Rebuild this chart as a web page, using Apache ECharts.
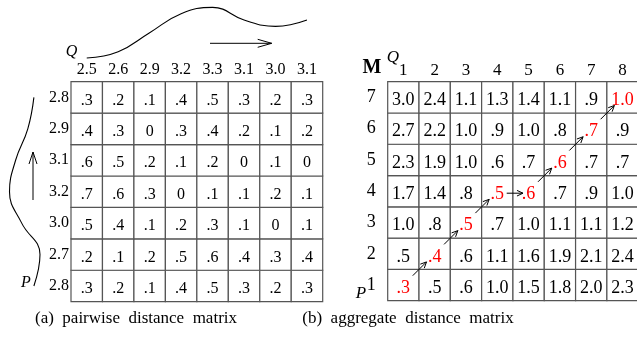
<!DOCTYPE html>
<html>
<head>
<meta charset="utf-8">
<script src="https://cdn.jsdelivr.net/npm/echarts@6/dist/echarts.min.js"></script>
<style>
  html, body { margin: 0; padding: 0; background: #fff; }
  #chart { width: 637px; height: 346px; }
</style>
</head>
<body>
<div id="chart"></div>
<script>
// sequences (P listed bottom to top)
const pValues = [2.8, 2.7, 3.0, 3.2, 3.1, 2.9, 2.8];
const qValues = [2.5, 2.6, 2.9, 3.2, 3.3, 3.1, 3.0, 3.1];

// pairwise distance matrix, rows bottom to top
const pairwise = [
  [.3, .2, .1, .4, .5, .3, .2, .3],
  [.2, .1, .2, .5, .6, .4, .3, .4],
  [.5, .4, .1, .2, .3, .1, 0, .1],
  [.7, .6, .3, 0, .1, .1, .2, .1],
  [.6, .5, .2, .1, .2, 0, .1, 0],
  [.4, .3, 0, .3, .4, .2, .1, .2],
  [.3, .2, .1, .4, .5, .3, .2, .3]
];

// aggregate distance matrix, rows bottom to top
const aggregate = [
  [.3, .5, .6, 1.0, 1.5, 1.8, 2.0, 2.3],
  [.5, .4, .6, 1.1, 1.6, 1.9, 2.1, 2.4],
  [1.0, .8, .5, .7, 1.0, 1.1, 1.1, 1.2],
  [1.7, 1.4, .8, .5, .6, .7, .9, 1.0],
  [2.3, 1.9, 1.0, .6, .7, .6, .7, .7],
  [2.7, 2.2, 1.0, .9, 1.0, .8, .7, .9],
  [3.0, 2.4, 1.1, 1.3, 1.4, 1.1, .9, 1.0]
];

// warping path as [column, row]
const warpPath = [[0, 0], [1, 1], [2, 2], [3, 3], [4, 3], [5, 4], [6, 5], [7, 6]];

const colNumbers = ['1', '2', '3', '4', '5', '6', '7', '8'];
const rowNumbers = ['1', '2', '3', '4', '5', '6', '7'];

const SERIF = '"Liberation Serif", "DejaVu Serif", serif';

function fmt(v) {
  if (v === 0) return '0';
  if (v < 1) return '.' + Math.round(v * 10);
  return v.toFixed(1);
}

const pairwiseData = [];
pairwise.forEach((row, r) => row.forEach((v, c) => pairwiseData.push([c, r, v, 0])));

const onPath = (c, r) => warpPath.some(p => p[0] === c && p[1] === r);
const aggregateData = [];
aggregate.forEach((row, r) => row.forEach((v, c) => aggregateData.push([c, r, v, onPath(c, r) ? 1 : 0])));

const pathSegments = [];
for (let i = 1; i < warpPath.length; i++) {
  pathSegments.push([warpPath[i - 1][0], warpPath[i - 1][1], warpPath[i][0], warpPath[i][1]]);
}

function cellRenderer(fontSize, yShift) {
  return function (params, api) {
    const c = api.coord([api.value(0), api.value(1)]);
    const s = api.size([1, 1]);
    const red = api.value(3) === 1;
    return {
      type: 'group',
      children: [
        {
          type: 'rect',
          shape: { x: c[0] - s[0] / 2, y: c[1] - s[1] / 2, width: s[0], height: s[1] },
          style: { fill: '#fff', stroke: '#555', lineWidth: 1.2 }
        },
        {
          type: 'text',
          x: c[0],
          y: c[1] + yShift,
          style: {
            text: fmt(api.value(2)),
            fill: red ? '#f00' : '#000',
            font: fontSize + 'px ' + SERIF,
            align: 'center',
            verticalAlign: 'middle'
          }
        }
      ]
    };
  };
}

function arrowHead(x1, y1, x2, y2, len, half) {
  const ang = Math.atan2(y2 - y1, x2 - x1);
  const bx = x2 - len * Math.cos(ang), by = y2 - len * Math.sin(ang);
  const nx = -Math.sin(ang) * half, ny = Math.cos(ang) * half;
  return [[bx + nx, by + ny], [x2, y2], [bx - nx, by - ny]];
}

const chart = echarts.init(document.getElementById('chart'));

const labelBase = { fontFamily: SERIF, color: '#000' };

chart.setOption({
  animation: false,
  backgroundColor: '#fff',
  grid: [
    { left: 71, top: 81.7, width: 251.7, height: 220, outerBoundsMode: 'none' },
    { left: 387.7, top: 81.7, width: 250.5, height: 219, outerBoundsMode: 'none' },
    { left: 71, top: 1, width: 251.7, height: 63.4, outerBoundsMode: 'none' },
    { left: 3.4, top: 81.7, width: 42.7, height: 220, outerBoundsMode: 'none' }
  ],
  xAxis: [
    {
      type: 'category', gridIndex: 0, position: 'top', data: qValues.map(v => v.toFixed(1)),
      axisLine: { show: false }, axisTick: { show: false }, splitLine: { show: false },
      axisLabel: Object.assign({ fontSize: 16, margin: 4, interval: 0 }, labelBase)
    },
    {
      type: 'category', gridIndex: 1, position: 'top', data: colNumbers,
      axisLine: { show: false }, axisTick: { show: false }, splitLine: { show: false },
      axisLabel: Object.assign({ fontSize: 17, margin: 3, interval: 0 }, labelBase)
    },
    { type: 'category', gridIndex: 2, data: colNumbers, show: false },
    { type: 'value', gridIndex: 3, min: 2.6, max: 3.3, inverse: true, show: false }
  ],
  yAxis: [
    {
      type: 'category', gridIndex: 0, data: pValues.map(v => v.toFixed(1)),
      axisLine: { show: false }, axisTick: { show: false }, splitLine: { show: false },
      axisLabel: Object.assign({ fontSize: 16, margin: 2, interval: 0, padding: [6, 0, 0, 0] }, labelBase)
    },
    {
      type: 'category', gridIndex: 1, data: rowNumbers,
      axisLine: { show: false }, axisTick: { show: false }, splitLine: { show: false },
      axisLabel: Object.assign({ fontSize: 18, margin: 12, interval: 0, padding: [0, 0, 6, 0] }, labelBase)
    },
    { type: 'value', gridIndex: 2, min: 2.4, max: 3.4, show: false },
    { type: 'category', gridIndex: 3, data: rowNumbers, show: false }
  ],
  series: [
    {
      type: 'custom', xAxisIndex: 0, yAxisIndex: 0, data: pairwiseData,
      encode: { x: 0, y: 1 }, renderItem: cellRenderer(16, 3), clip: false, silent: true
    },
    {
      type: 'custom', xAxisIndex: 1, yAxisIndex: 1, data: aggregateData,
      encode: { x: 0, y: 1 }, renderItem: cellRenderer(18, 3), clip: false, silent: true
    },
    {
      type: 'custom', xAxisIndex: 1, yAxisIndex: 1, data: pathSegments, z: 5,
      encode: { x: [0, 2], y: [1, 3] }, clip: false, silent: true,
      renderItem: function (params, api) {
        const a = api.coord([api.value(0), api.value(1)]);
        const b = api.coord([api.value(2), api.value(3)]);
        const dx = b[0] - a[0], dy = b[1] - a[1];
        const flat = Math.abs(dy) < 1;
        const t1 = flat ? 0.82 : 0.74;
        const off = flat ? 2 : 0;
        const x1 = a[0] + dx * 0.3, y1 = a[1] + dy * 0.3 + off;
        const x2 = a[0] + dx * t1, y2 = a[1] + dy * t1 + off;
        return {
          type: 'group',
          children: [
            { type: 'line', shape: { x1: x1, y1: y1, x2: x2, y2: y2 }, style: { stroke: '#000', lineWidth: 1 } },
            { type: 'polyline', shape: { points: arrowHead(x1, y1, x2, y2, 6, 2.8) }, style: { stroke: '#000', fill: null, lineWidth: 1 } }
          ]
        };
      }
    },
    {
      type: 'line', xAxisIndex: 2, yAxisIndex: 2, data: qValues, smooth: 0.45,
      symbol: 'none', silent: true, lineStyle: { color: '#000', width: 1.1 }
    },
    {
      type: 'line', xAxisIndex: 3, yAxisIndex: 3, data: pValues.map((v, i) => [v, i]), smooth: 0.45,
      symbol: 'none', silent: true, lineStyle: { color: '#000', width: 1.1 }
    }
  ],
  graphic: [
    { type: 'text', x: 71.5, y: 52, style: { text: 'Q', font: 'italic 16px ' + SERIF, fill: '#000', align: 'center', verticalAlign: 'middle' } },
    { type: 'text', x: 26, y: 283, style: { text: 'P', font: 'italic 16px ' + SERIF, fill: '#000', align: 'center', verticalAlign: 'middle' } },
    { type: 'text', x: 372, y: 68, style: { text: 'M', font: 'bold 20px ' + SERIF, fill: '#000', align: 'center', verticalAlign: 'middle' } },
    { type: 'text', x: 393, y: 58, style: { text: 'Q', font: 'italic 17px ' + SERIF, fill: '#000', align: 'center', verticalAlign: 'middle' } },
    { type: 'text', x: 361, y: 294, style: { text: 'P', font: 'italic 17px ' + SERIF, fill: '#000', align: 'center', verticalAlign: 'middle' } },
    { type: 'line', shape: { x1: 210, y1: 43.3, x2: 271.7, y2: 43.3 }, style: { stroke: '#000', lineWidth: 1 } },
    { type: 'polyline', shape: { points: arrowHead(210, 43.3, 271.7, 43.3, 14, 4) }, style: { stroke: '#000', fill: null, lineWidth: 1 } },
    { type: 'line', shape: { x1: 33, y1: 200, x2: 33, y2: 152 }, style: { stroke: '#000', lineWidth: 1 } },
    { type: 'polyline', shape: { points: arrowHead(33, 200, 33, 152, 12, 4) }, style: { stroke: '#000', fill: null, lineWidth: 1 } },
    { type: 'text', x: 136, y: 319, style: { text: '(a)  pairwise  distance  matrix', font: '17px ' + SERIF, fill: '#000', align: 'center', verticalAlign: 'middle' } },
    { type: 'text', x: 408, y: 319, style: { text: '(b)  aggregate  distance  matrix', font: '17px ' + SERIF, fill: '#000', align: 'center', verticalAlign: 'middle' } }
  ]
});
</script>
</body>
</html>
